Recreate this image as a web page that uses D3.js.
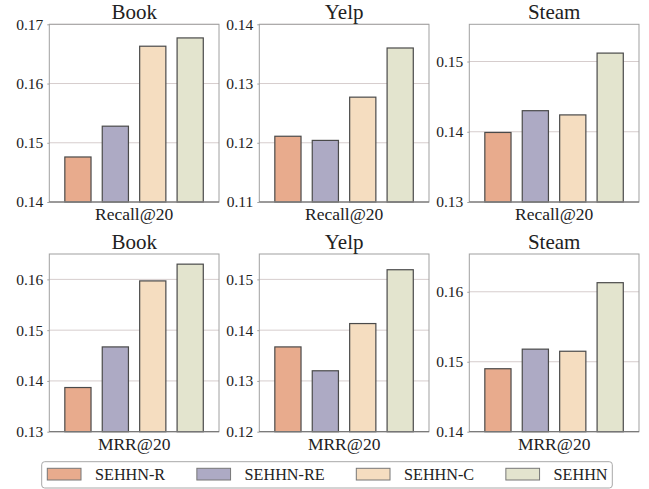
<!DOCTYPE html>
<html><head><meta charset="utf-8">
<script src="https://cdn.jsdelivr.net/npm/d3@7"></script>
<style>body{margin:0;background:#fff}svg{display:block}</style>
</head><body><svg id="c" width="649" height="489" font-family="Liberation Serif"></svg>
<script>
const methods = ["SEHHN-R", "SEHHN-RE", "SEHHN-C", "SEHHN"];
const colors = ["#E8AB8D", "#ADAAC4", "#F5DDC0", "#E3E4CE"];
const datasets = ["Book", "Yelp", "Steam"];
const metrics = ["Recall@20", "MRR@20"];
const recallValues = [
  [0.1476, 0.1528, 0.1663, 0.1677],
  [0.1211, 0.1204, 0.1277, 0.1360],
  [0.1399, 0.1430, 0.1424, 0.1512]
];
const mrrValues = [
  [0.1387, 0.1467, 0.1597, 0.1630],
  [0.1367, 0.1320, 0.1413, 0.1519],
  [0.1490, 0.1518, 0.1515, 0.1613]
];
const recallDomains = [[0.14, 0.17], [0.11, 0.14], [0.13, 0.1553]];
const mrrDomains = [[0.13, 0.165], [0.12, 0.155], [0.14, 0.1654]];
const recallTicks = [[0.14, 0.15, 0.16, 0.17], [0.11, 0.12, 0.13, 0.14], [0.13, 0.14, 0.15]];
const mrrTicks = [[0.13, 0.14, 0.15, 0.16], [0.12, 0.13, 0.14, 0.15], [0.14, 0.15, 0.16]];

const FONT = "Liberation Serif";
const svg = d3.select("#c");
const colLeft = [49.3, 259.3, 469.3];
const rowTop = [24.3, 254];
const pw = 169.7, ph = 177.7;

const rows = [
  {vals: recallValues, doms: recallDomains, ticks: recallTicks, label: metrics[0]},
  {vals: mrrValues, doms: mrrDomains, ticks: mrrTicks, label: metrics[1]}
];

rows.forEach((row, r) => {
  datasets.forEach((ds, c) => {
    const g = svg.append("g").attr("transform", `translate(${colLeft[c]},${rowTop[r]})`);
    const y = d3.scaleLinear().domain(row.doms[c]).range([ph, 0]);
    const x = d3.scaleLinear().domain([-0.765, 3.77]).range([0, pw]);
    g.selectAll("line.grid").data(row.ticks[c]).enter().append("line")
      .attr("x1", 0).attr("x2", pw).attr("y1", d => y(d)).attr("y2", d => y(d))
      .attr("stroke", "#d6cdcd").attr("stroke-width", 1);
    g.selectAll("rect.bar").data(row.vals[c]).enter().append("rect")
      .attr("x", (d, i) => x(i - 0.35)).attr("width", x(0.35) - x(-0.35))
      .attr("y", d => y(d)).attr("height", d => ph - y(d))
      .attr("fill", (d, i) => colors[i]).attr("stroke", "#4a4a4a").attr("stroke-width", 1.2);
    g.append("rect").attr("x", 0).attr("y", 0).attr("width", pw).attr("height", ph)
      .attr("fill", "none").attr("stroke", "#a0a0a0").attr("stroke-width", 1);
    g.append("line").attr("x1", 0).attr("x2", pw).attr("y1", ph).attr("y2", ph)
      .attr("stroke", "#707070").attr("stroke-width", 1);
    const ax = d3.axisLeft(y).tickValues(row.ticks[c]).tickFormat(d3.format(".2f")).tickSize(2).tickPadding(4);
    const axg = g.append("g").call(ax);
    axg.attr("font-family", FONT).attr("font-size", 15.5);
    axg.select(".domain").remove();
    axg.selectAll(".tick line").attr("stroke", "#a0a0a0");
    axg.selectAll("text").attr("font-family", FONT).attr("font-size", 15.5).attr("fill", "#222");
    g.append("text").attr("x", pw / 2).attr("y", -5.3).attr("text-anchor", "middle")
      .attr("font-family", FONT).attr("font-size", 21).attr("fill", "#222").text(ds);
    g.append("text").attr("x", pw / 2).attr("y", ph + 18.5).attr("text-anchor", "middle")
      .attr("font-family", FONT).attr("font-size", 17.5).attr("fill", "#222").text(row.label);
  });
});

const lg = svg.append("g");
lg.append("rect").attr("x", 41.7).attr("y", 461.7).attr("width", 570.6).attr("height", 26.3)
  .attr("rx", 3).attr("fill", "#fff").attr("stroke", "#a8a8a8").attr("stroke-width", 1);
let lx = 47.3;
methods.forEach((m, i) => {
  lg.append("rect").attr("x", lx).attr("y", 468.3).attr("width", 33.7).attr("height", 11.7)
    .attr("fill", colors[i]).attr("stroke", "#777").attr("stroke-width", 1);
  const t = lg.append("text").attr("x", lx + 47.7).attr("y", 479.5)
    .attr("font-family", FONT).attr("font-size", 16.2).attr("fill", "#222").text(m);
  lx += 47.7 + t.node().getComputedTextLength() + 31.7;
});
</script></body></html>
